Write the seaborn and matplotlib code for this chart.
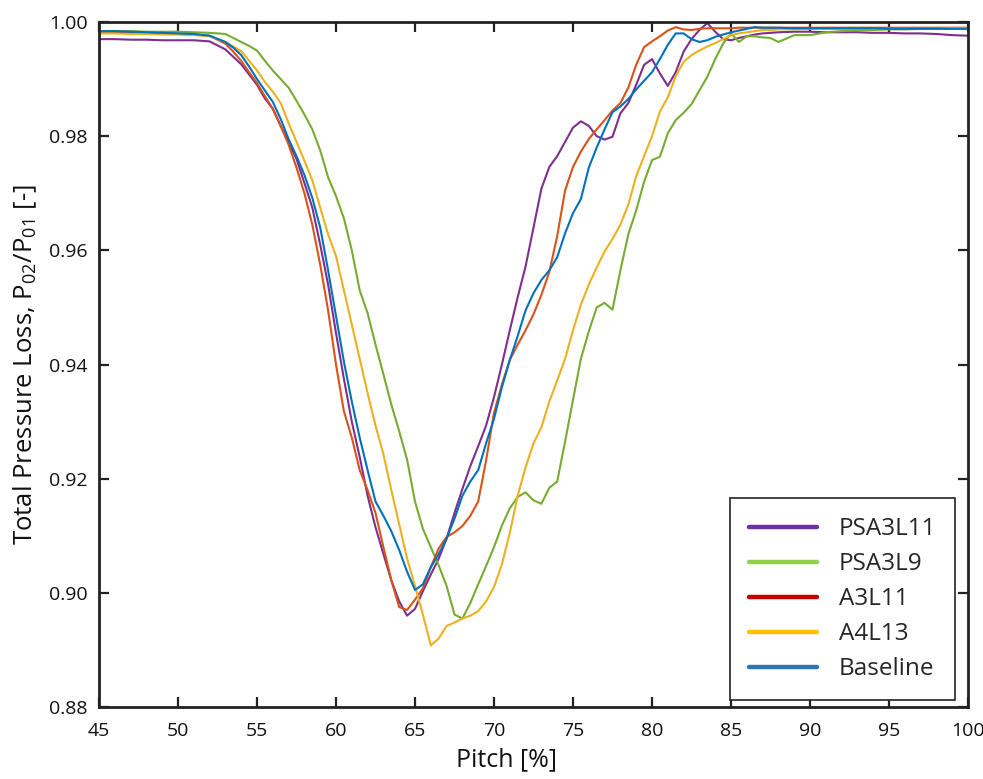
import numpy as np
import pandas as pd
import matplotlib
matplotlib.use("Agg")
import matplotlib.pyplot as plt
from matplotlib.lines import Line2D
import seaborn as sns

# Pitch positions of the traverse samples [%]
pitch = [45, 46, 47, 48, 49, 50, 51, 52,
         53, 53.5, 54, 54.5, 55, 55.5, 56, 56.5, 57, 57.5,
         58, 58.5, 59, 59.5, 60, 60.5, 61, 61.5, 62, 62.5,
         63, 63.5, 64, 64.5, 65, 65.5, 66, 66.5, 67, 67.5,
         68, 68.5, 69, 69.5, 70, 70.5, 71, 71.5, 72, 72.5,
         73, 73.5, 74, 74.5, 75, 75.5, 76, 76.5, 77, 77.5,
         78, 78.5, 79, 79.5, 80, 80.5, 81, 81.5, 82, 82.5,
         83, 83.5, 84, 84.5, 85, 85.5, 86, 86.5, 87, 87.5,
         88, 89, 90, 91, 92, 93, 94, 95, 96, 97, 98, 99, 100]

psa3l11 = [.9970, .9970, .9969, .9969, .9968, .9968, .9968, .9966,
           .9952, .9939, .9926, .9908, .9890, .9866, .9848, .9818, .9790, .9760,
           .9718, .9675, .9610, .9540, .9455, .9375, .9300, .9238, .9170, .9115,
           .9068, .9022, .8985, .8960, .8972, .9003, .9032, .9060, .9095, .9140,
           .9182, .9222, .9257, .9293, .9343, .9400, .9460, .9518, .9572, .9640,
           .9708, .9746, .9765, .9790, .9815, .9826, .9818, .9800, .9794, .9799,
           .9840, .9858, .9890, .9925, .9935, .9910, .9888, .9912, .9948, .9970,
           .9986, .9998, .9983, .9970, .9968, .9972, .9975, .9978, .9980, .9981,
           .9982, .9983, .9983, .9982, .9982, .9982, .9981, .9981, .9980, .9980, .9979, .9977, .9976]

psa3l9 = [.9984, .9984, .9984, .9983, .9983, .9983, .9982, .9981,
          .9979, .9972, .9965, .9958, .9950, .9932, .9915, .9900, .9885, .9862,
          .9838, .9812, .9775, .9728, .9695, .9656, .9600, .9530, .9490, .9435,
          .9383, .9330, .9283, .9233, .9160, .9112, .9080, .9048, .9012, .8962,
          .8955, .8982, .9015, .9047, .9080, .9118, .9148, .9168, .9176, .9162,
          .9156, .9184, .9195, .9265, .9338, .9410, .9458, .9500, .9508, .9496,
          .9565, .9628, .9670, .9720, .9758, .9764, .9805, .9828, .9841, .9856,
          .9880, .9904, .9935, .9962, .9980, .9965, .9975, .9975, .9973, .9972,
          .9965, .9977, .9977, .9982, .9984, .9986, .9986, .9987, .9987, .9988, .9988, .9989, .9989]

a3l11 = [.9982, .9982, .9981, .9980, .9980, .9979, .9978, .9976,
         .9962, .9948, .9932, .9912, .9893, .9870, .9848, .9818, .9785, .9745,
         .9700, .9645, .9575, .9495, .9400, .9318, .9272, .9215, .9180, .9140,
         .9080, .9022, .8975, .8970, .8988, .9008, .9045, .9078, .9098, .9106,
         .9117, .9135, .9160, .9232, .9315, .9365, .9408, .9435, .9460, .9488,
         .9522, .9562, .9625, .9705, .9746, .9773, .9795, .9812, .9828, .9845,
         .9858, .9885, .9925, .9956, .9966, .9975, .9985, .9991, .9987, .9986,
         .9988, .9989, .9989, .9989, .9989, .9990, .9990, .9990, .9990, .9990,
         .9990, .9990, .9990, .9990, .9990, .9990, .9990, .9990, .9990, .9990, .9990, .9990, .9990]

a4l13 = [.9980, .9980, .9979, .9979, .9978, .9978, .9977, .9975,
         .9965, .9957, .9949, .9932, .9915, .9895, .9878, .9858, .9823, .9790,
         .9757, .9723, .9675, .9628, .9590, .9530, .9470, .9410, .9350, .9293,
         .9243, .9180, .9120, .9060, .9012, .8962, .8908, .8920, .8942, .8948,
         .8955, .8960, .8968, .8985, .9010, .9050, .9105, .9170, .9220, .9262,
         .9290, .9335, .9372, .9410, .9460, .9505, .9540, .9570, .9598, .9620,
         .9645, .9680, .9730, .9765, .9800, .9843, .9868, .9905, .9930, .9942,
         .9950, .9957, .9963, .9970, .9977, .9980, .9982, .9984, .9986, .9986,
         .9987, .9987, .9988, .9988, .9988, .9988, .9988, .9988, .9988, .9988, .9988, .9989, .9989]

baseline = [.9984, .9984, .9983, .9982, .9981, .9980, .9979, .9976,
            .9965, .9955, .9942, .9922, .9900, .9880, .9860, .9830, .9795, .9765,
            .9732, .9692, .9640, .9565, .9485, .9405, .9335, .9272, .9215, .9160,
            .9135, .9108, .9075, .9037, .9005, .9015, .9045, .9068, .9095, .9130,
            .9170, .9195, .9215, .9262, .9305, .9360, .9408, .9450, .9495, .9525,
            .9548, .9565, .9588, .9630, .9665, .9690, .9745, .9780, .9812, .9842,
            .9852, .9865, .9882, .9897, .9912, .9935, .9960, .9980, .9980, .9970,
            .9965, .9968, .9974, .9978, .9982, .9985, .9988, .9991, .9990, .9990,
            .9990, .9989, .9989, .9989, .9989, .9989, .9989, .9988, .9988, .9988, .9988, .9988, .9988]

cases = ["PSA3L11", "PSA3L9", "A3L11", "A4L13", "Baseline"]
series = [psa3l11, psa3l9, a3l11, a4l13, baseline]
line_colors = ["#7E2F8E", "#77AC30", "#D95319", "#EDB120", "#0072BD"]
legend_colors = ["#7030A0", "#92D050", "#C00000", "#FFC000", "#2E75B6"]

x_ticks = [45, 50, 55, 60, 65, 70, 75, 80, 85, 90, 95, 100]
y_ticks = [0.88, 0.90, 0.92, 0.94, 0.96, 0.98, 1.00]

df = pd.concat(
    [pd.DataFrame({"pitch": pitch, "ratio": vals, "case": name})
     for name, vals in zip(cases, series)],
    ignore_index=True,
)

sns.set_theme(style="ticks")
plt.rcParams["font.family"] = ["Open Sans", "DejaVu Sans"]
plt.rcParams["mathtext.fontset"] = "custom"
plt.rcParams["mathtext.rm"] = "Open Sans"
plt.rcParams["mathtext.it"] = "Open Sans:italic"

fig = plt.figure(figsize=(9.83, 7.79), dpi=100)
ax = fig.add_axes([99 / 983, 1 - 707 / 779, 869 / 983, 685 / 779])

sns.lineplot(data=df, x="pitch", y="ratio", hue="case", hue_order=cases,
             palette=dict(zip(cases, line_colors)), estimator=None, sort=False,
             linewidth=1.5, legend=False, ax=ax)

ax.set_xlim(45, 100)
ax.set_ylim(0.88, 1.00)
ax.set_xticks(x_ticks)
ax.set_xticklabels([str(t) for t in x_ticks])
ax.set_yticks(y_ticks)
ax.set_yticklabels([f"{t:.2f}" for t in y_ticks])
ax.tick_params(direction="in", length=7, width=1.6, top=True, right=True,
               labelsize=14, colors="#222222", labelcolor="#111111")
ax.tick_params(axis="x", pad=11)
ax.tick_params(axis="y", pad=8)
for sp in ax.spines.values():
    sp.set_linewidth(2.0)
    sp.set_color("#222222")

ax.set_xlabel("Pitch [%]", fontsize=18, color="#111111")
ax.xaxis.set_label_coords((507 - 99) / 869, -(760 - 707) / 685, transform=ax.transAxes)
ax.xaxis.label.set_verticalalignment("center")
ax.set_ylabel("Total Pressure Loss, P$_{02}$/P$_{01}$ [-]", fontsize=18.5,
              color="#111111")
ax.yaxis.set_label_coords(-(99 - 25) / 869, 0.5, transform=ax.transAxes)
ax.yaxis.label.set_verticalalignment("center")

handles = [Line2D([0], [0], color=c, lw=3.2) for c in legend_colors]
leg = ax.legend(handles, cases, loc="lower right",
                bbox_to_anchor=((955 - 99) / 869, (707 - 700) / 685),
                borderaxespad=0, frameon=True, fancybox=False,
                edgecolor="#222222", framealpha=1, fontsize=17.5,
                handlelength=2.8, handletextpad=0.9, labelspacing=0.45,
                borderpad=0.78)
leg.get_frame().set_linewidth(1.2)

fig.savefig("out.png", dpi=100, facecolor="white")
